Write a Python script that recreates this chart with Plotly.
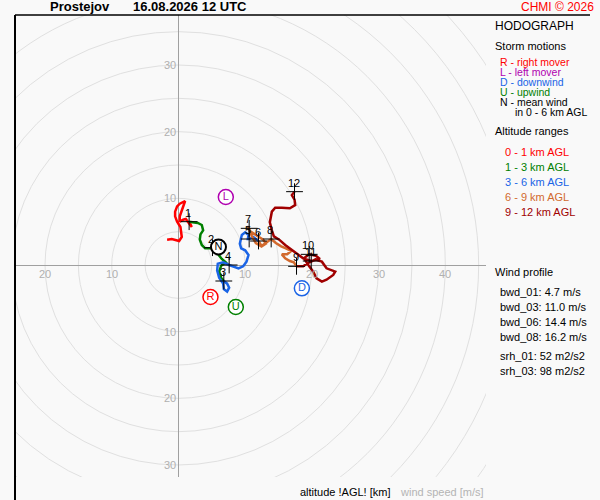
import plotly.graph_objects as go

# hodograph path, wind components u / v in m/s, split by altitude range
u_0_1 = [-1.7, -1.0, 0.1, 0.5, 0.3, -0.2, -0.5, -0.5, -0.2, 0.2, 1.0, 0.8, 0.5, 0.2, 0.2, 0.7, 1.1, 1.7, 2.0, 1.6]
v_0_1 = [3.8, 3.9, 3.6, 4.2, 5.7, 6.5, 7.3, 8.0, 8.8, 9.2, 9.6, 9.0, 8.2, 7.3, 6.5, 6.8, 6.9, 6.2, 5.7, 6.5]

u_1_3 = [1.6, 2.2, 2.9, 3.5, 3.7, 3.3, 3.2, 3.5, 4.0, 4.7, 5.1, 5.8, 6.5, 7.1, 6.4, 6.1, 6.4, 6.8]
v_1_3 = [6.5, 6.4, 6.3, 6.0, 5.2, 4.6, 3.8, 3.0, 2.5, 2.5, 2.6, 1.8, 0.9, 0.4, -0.1, -1.0, -1.9, -2.4]

u_3_6 = [6.8, 7.3, 7.6, 7.3, 6.8, 6.7, 6.1, 5.8, 5.9, 6.7, 7.6, 9.0, 9.7, 10.2, 10.5, 10.0, 9.4, 9.2, 9.5,
         10.0, 10.5, 10.4, 10.6, 11.2, 11.6, 12.0]
v_3_6 = [-2.4, -2.8, -3.4, -4.0, -3.6, -2.8, -1.9, -0.8, 0.2, 0.4, 0.0, -0.5, -0.2, 0.5, 1.5, 2.2, 2.5, 3.2, 4.5,
         4.9, 4.5, 3.9, 3.9, 4.2, 3.9, 3.6]

u_6_9 = [12.0, 12.5, 13.1, 12.7, 11.6, 10.7, 10.3, 10.6, 11.0, 11.6, 12.4, 13.1, 13.9, 14.6, 15.4, 16.1, 16.9,
         16.3, 15.5, 16.0, 16.7, 17.3, 17.7]
v_6_9 = [3.6, 2.8, 3.2, 3.8, 4.5, 5.1, 5.8, 5.5, 4.3, 3.3, 2.8, 3.3, 3.9, 3.3, 2.8, 2.5, 2.1, 1.6, 1.6, 1.0, 0.6,
         0.4, -0.2]

u_9_12 = [17.7, 18.7, 19.4, 20.5, 21.5, 22.2, 23.5, 23.2, 22.2, 21.5, 20.7, 20.2, 19.6, 18.8, 19.6, 20.6, 21.2,
          19.9, 18.7, 17.9, 17.0, 16.0, 15.1, 14.3, 14.0, 13.7, 14.0, 14.5, 15.5, 16.7, 17.5, 17.4, 17.0, 17.4]
v_9_12 = [-0.2, -0.2, 0.3, 0.8, 0.5, -0.5, -1.0, -1.5, -2.2, -2.5, -2.0, -1.0, -0.2, 1.0, 1.6, 1.4, 0.9, 0.6,
          1.0, 1.6, 2.2, 3.0, 3.8, 4.3, 5.2, 6.4, 8.0, 8.6, 8.6, 8.5, 9.0, 9.8, 10.5, 11.0]

layer_names = ['0 - 1 km AGL', '1 - 3 km AGL', '3 - 6 km AGL', '6 - 9 km AGL', '9 - 12 km AGL']
layer_colors = ['#ff0000', '#008000', '#1a64e6', '#d2692d', '#a00000']

# km marks along the profile
km_marks = [1, 2, 3, 4, 5, 6, 7, 8, 9, 10, 11, 12]
km_u = [1.6, 5.1, 6.8, 7.6, 10.6, 12.0, 10.6, 13.9, 17.7, 19.6, 19.9, 17.4]
km_v = [6.5, 2.6, -2.4, 0.0, 3.9, 3.6, 5.5, 3.9, -0.2, 1.6, 0.6, 11.0]

# storm motions
storm_labels = ['R', 'L', 'D', 'U', 'N']
storm_u = [4.8, 7.1, 18.5, 8.6, 6.0]
storm_v = [-4.8, 10.2, -3.5, -6.3, 2.7]
storm_colors = ['#ff0000', '#b000b0', '#1a64e6', '#008000', '#000000']

rings = [5, 10, 15, 20, 25, 30, 35, 40, 45, 50, 55, 60]
x_ticks = [-20, -10, 10, 20, 30, 40]
y_ticks = [-30, -20, -10, 10, 20, 30]

wind_profile = ['bwd_01: 4.7 m/s', 'bwd_03: 11.0 m/s', 'bwd_06: 14.4 m/s', 'bwd_08: 16.2 m/s']
helicity = ['srh_01: 52 m2/s2', 'srh_03: 98 m2/s2']

FONT = 'Arial, Liberation Sans, sans-serif'
BG = '#f9f9f9'


def ax(p):
    # pixel -> paper x
    return (p - 15) / 471.0


def ay(p):
    # pixel -> paper y
    return (477 - p) / 462.0


fig = go.Figure()

layers_u = [u_0_1, u_1_3, u_3_6, u_6_9, u_9_12]
layers_v = [v_0_1, v_1_3, v_3_6, v_6_9, v_9_12]
for name, col, uu, vv in zip(layer_names, layer_colors, layers_u, layers_v):
    fig.add_trace(go.Scatter(x=uu, y=vv, mode='lines', name=name,
                             line=dict(color=col, width=2.5)))

fig.add_trace(go.Scatter(x=km_u, y=km_v, mode='markers',
                         marker=dict(symbol='cross-thin', size=12, color='black',
                                     line=dict(color='black', width=1))))

fig.add_trace(go.Scatter(x=storm_u, y=storm_v, mode='markers+text', text=storm_labels,
                         textposition='middle center',
                         textfont=dict(family=FONT, size=11, color=storm_colors),
                         marker=dict(size=15, color='white',
                                     line=dict(color=storm_colors, width=[1.5, 1.5, 1.5, 1.5, 2]))))

shapes = []
for r in rings:
    shapes.append(dict(type='circle', xref='x', yref='y', x0=-r, x1=r, y0=-r, y1=r,
                       line=dict(color='#e0e0e0', width=1), layer='below'))
# frame lines
shapes.append(dict(type='line', xref='paper', yref='paper', x0=0, x1=ax(590), y0=1, y1=1,
                   line=dict(color='black', width=1.5)))
shapes.append(dict(type='line', xref='paper', yref='paper', x0=0, x1=0, y0=ay(500), y1=1,
                   line=dict(color='black', width=2)))

ann = []
for k, uu, vv in zip(km_marks, km_u, km_v):
    ann.append(dict(x=uu, y=vv, text=str(k), showarrow=False, yshift=9, xshift=-1,
                    font=dict(family=FONT, size=11, color='black')))
for t in x_ticks:
    ann.append(dict(x=t, y=0, text=str(abs(t)), showarrow=False, yshift=-9,
                    font=dict(family=FONT, size=11, color='#b0b0b0')))
for t in y_ticks:
    ann.append(dict(x=0, y=t, text=str(abs(t)), showarrow=False, xanchor='right', xshift=0,
                    font=dict(family=FONT, size=11, color='#b0b0b0')))


def txt(x, y, s, col='black', size=11, anchor='left'):
    ann.append(dict(xref='paper', yref='paper', x=ax(x), y=ay(y), text=s, showarrow=False,
                    xanchor=anchor, yanchor='middle', xshift=-2 if anchor == 'left' else 0,
                    font=dict(family=FONT, size=size, color=col)))


txt(50, 7, '<b>Prostejov</b>', size=13)
txt(133, 7, '<b>16.08.2026 12 UTC</b>', size=13)
txt(596, 7, 'CHMI © 2026', col='#ff0000', size=12, anchor='right')

txt(495, 26, 'HODOGRAPH', size=12)
txt(495, 46, 'Storm motions')
motions = ['R - right mover', 'L - left mover', 'D - downwind', 'U - upwind', 'N - mean wind']
for i, (s, c) in enumerate(zip(motions, storm_colors)):
    txt(500, 62 + 10 * i, s, col=c, size=10.5)
txt(515, 112, 'in 0 - 6 km AGL', size=10.5)
txt(495, 131, 'Altitude ranges')
for i, (s, c) in enumerate(zip(layer_names, layer_colors)):
    txt(505, 152 + 15 * i, s, col=c)

txt(495, 272, 'Wind profile')
for i, s in enumerate(wind_profile):
    txt(500, 292 + 15 * i, s)
for i, s in enumerate(helicity):
    txt(500, 356 + 15 * i, s)

txt(300, 492, 'altitude !AGL! [km]')
txt(400, 492, 'wind speed [m/s]', col='#b4b4b4')

fig.update_layout(
    width=600, height=500,
    margin=dict(l=15, r=114, t=15, b=23),
    paper_bgcolor=BG, plot_bgcolor=BG,
    showlegend=False,
    shapes=shapes, annotations=ann,
    xaxis=dict(range=[-24.5, 46.1], showgrid=False, showticklabels=False, ticks='',
               zeroline=True, zerolinecolor='#a0a0a0', zerolinewidth=1, fixedrange=True),
    yaxis=dict(range=[-31.8, 37.5], showgrid=False, showticklabels=False, ticks='',
               zeroline=True, zerolinecolor='#a0a0a0', zerolinewidth=1, fixedrange=True),
)

fig.write_html("out.html", config={'displayModeBar': False},
               post_script="document.body.style.margin='0px';document.body.style.background='%s';" % BG)
